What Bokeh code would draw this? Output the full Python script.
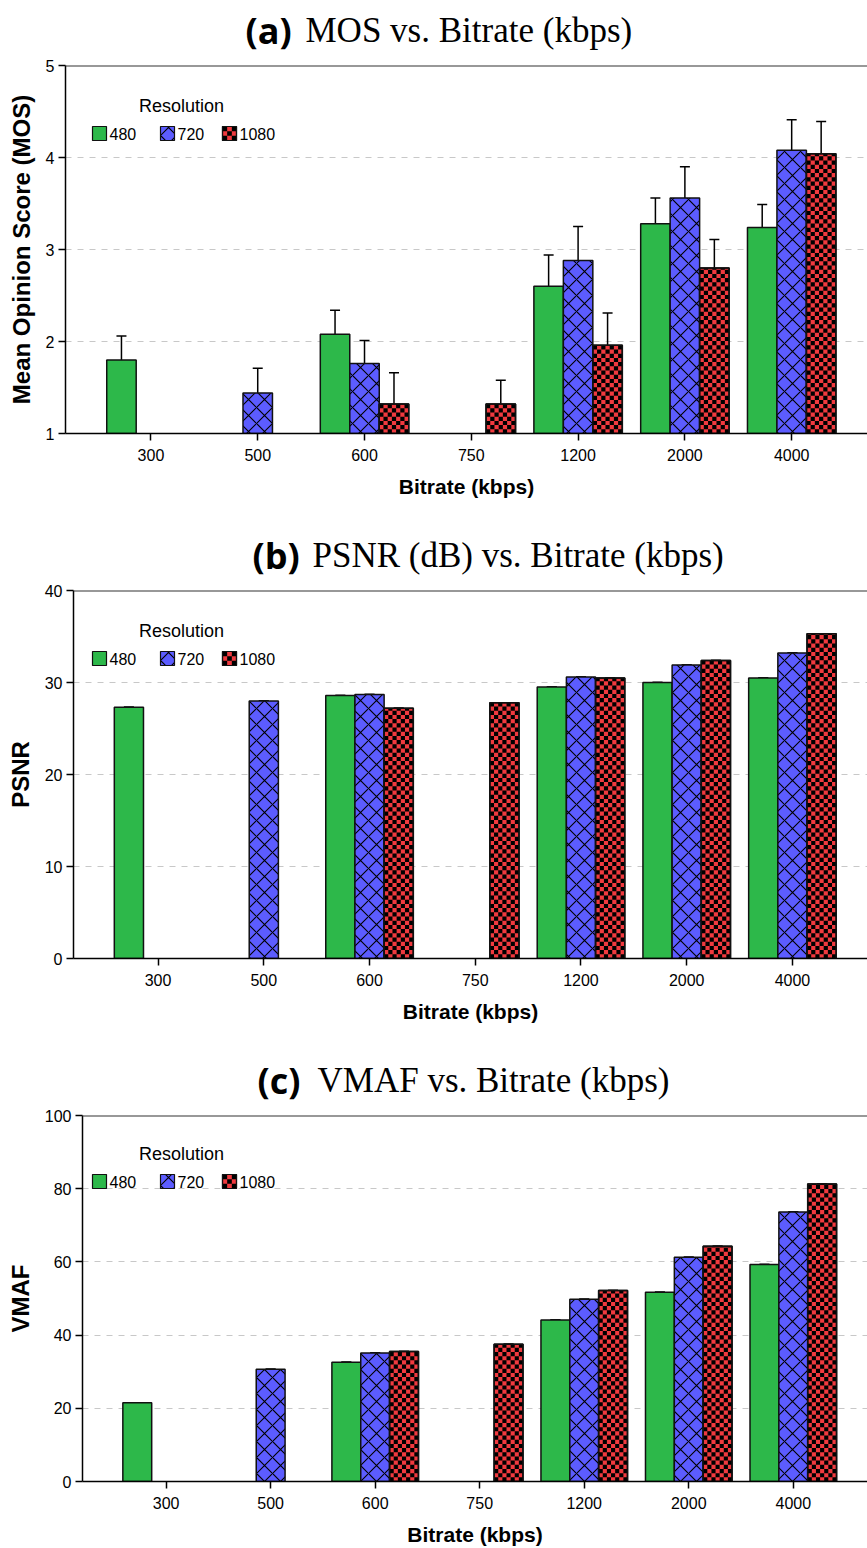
import math

from bokeh.plotting import figure
from bokeh.models import (ColumnDataSource, Whisker, Label, BoxAnnotation,
                          Span, FixedTicker, TeeHead)
from bokeh.core.properties import value
from bokeh.embed import file_html
from bokeh.resources import INLINE

# ---- data -------------------------------------------------------------
bitrates = ["300", "500", "600", "750", "1200", "2000", "4000"]
resolutions = ["480", "720", "1080"]

mos_480 = [1.80, None, 2.08, None, 2.60, 3.28, 3.24]
mos_720 = [None, 1.44, 1.76, None, 2.88, 3.56, 4.08]
mos_1080 = [None, None, 1.32, 1.32, 1.96, 2.80, 4.04]
mos_480_err = [0.26, None, 0.26, None, 0.34, 0.28, 0.25]
mos_720_err = [None, 0.27, 0.25, None, 0.37, 0.34, 0.33]
mos_1080_err = [None, None, 0.34, 0.26, 0.35, 0.31, 0.35]

psnr_480 = [27.3, None, 28.6, None, 29.5, 30.0, 30.5]
psnr_720 = [None, 28.0, 28.7, None, 30.6, 31.9, 33.2]
psnr_1080 = [None, None, 27.2, 27.8, 30.5, 32.4, 35.3]

vmaf_480 = [21.5, None, 32.6, None, 44.1, 51.7, 59.3]
vmaf_720 = [None, 30.7, 35.1, None, 49.8, 61.3, 73.6]
vmaf_1080 = [None, None, 35.5, 37.5, 52.2, 64.3, 81.3]

# ---- styling ------------------------------------------------------------
SANS = "Liberation Sans"
COLORS = ["#2db84a", "#5c5cff", "#f03a3f"]
OUTLINE = "#111111"
BAR_W = 0.276
OFFSETS = [-BAR_W, 0.0, BAR_W]
X_RANGE = (-0.8, 6.71)
FRAME_H = 368
WIDTH = 867
CROSS = dict(hatch_pattern="diagonal_cross", hatch_color="black", hatch_scale=16, hatch_weight=1.1)
CELL_PX = 4.2          # size of one checker cell in pixels
CHECK_COLS = 7


def title_fig(tag, caption, tag_left):
    t = figure(width=WIDTH, height=55, x_range=(0, WIDTH), y_range=(55, 0), title=None,
               x_axis_type=None, y_axis_type=None, output_backend="svg",
               toolbar_location=None, min_border=0)
    t.outline_line_color = None
    t.grid.visible = False
    t.text(x=[tag_left], y=[30], text=[tag], text_align="left",
           text_baseline="middle", text_font=value("Open Sans"),
           text_font_style="bold", text_font_size="36px", text_color="black")
    t.text(x=[tag_left + 60], y=[30], text=[caption], text_align="left",
           text_baseline="middle", text_font=value("Liberation Serif"),
           text_font_size="35px", text_color="black")
    return t


def checker_cells(xs, tops, y0, ky):
    """Black cells of a checkerboard filling each bar (pixel-sized cells)."""
    cw = BAR_W / CHECK_COLS
    ch = CELL_PX / ky
    L, R, B, T = [], [], [], []
    for xc, v in zip(xs, tops):
        left = xc - BAR_W / 2
        nrows = math.ceil((v - y0) / ch)
        for r in range(nrows):
            b = y0 + r * ch
            t = min(b + ch, v)
            for c in range(CHECK_COLS):
                if (r + c) % 2 == 0:
                    L.append(left + c * cw)
                    R.append(left + (c + 1) * cw)
                    B.append(b)
                    T.append(t)
    return dict(left=L, right=R, bottom=B, top=T)


def panel(ylabel, yticks, series, errors, height, frame_left):
    y0, y1 = yticks[0], yticks[-1]
    p = figure(width=WIDTH, height=height, x_range=X_RANGE, y_range=(y0, y1),
               output_backend="svg", toolbar_location=None,
               min_border_left=frame_left, min_border_right=0, min_border_top=10,
               min_border_bottom=height - 10 - FRAME_H)
    p.outline_line_color = None
    ky = FRAME_H / (y1 - y0)

    for k, vals in enumerate(series):
        xs, tops, lo, hi = [], [], [], []
        errs = errors[k] if errors is not None else [0.0] * len(vals)
        for i, v in enumerate(vals):
            if v is None:
                continue
            xs.append(i + OFFSETS[k])
            tops.append(v)
            e = errs[i] or 0.0
            lo.append(v - e)
            hi.append(v + e)
        src = ColumnDataSource(dict(x=xs, top=tops, lower=lo, upper=hi))
        style = CROSS if k == 1 else {}
        p.vbar(x="x", top="top", bottom=y0, width=BAR_W, source=src,
               fill_color=COLORS[k], line_color=OUTLINE, line_width=1.5, **style)
        if k == 2:
            p.quad(source=ColumnDataSource(checker_cells(xs, tops, y0, ky)),
                   left="left", right="right", bottom="bottom", top="top",
                   fill_color="black", line_color=None)
            p.vbar(x="x", top="top", bottom=y0, width=BAR_W, source=src,
                   fill_color=None, line_color=OUTLINE, line_width=1.5)
        p.add_layout(Whisker(base="x", upper="upper", lower="lower", source=src,
                             line_color="black", line_width=1.5,
                             upper_head=TeeHead(size=10, line_width=1.5, line_color="black"),
                             lower_head=TeeHead(size=10, line_width=1.5, line_color="black")))

    p.add_layout(Span(location=y1, dimension="width", line_color="#333333", line_width=2))

    p.xaxis.ticker = FixedTicker(ticks=list(range(len(bitrates))))
    p.xaxis.major_label_overrides = {i: b for i, b in enumerate(bitrates)}
    p.yaxis.ticker = FixedTicker(ticks=yticks)
    p.ygrid.ticker = FixedTicker(ticks=yticks)
    p.xgrid.visible = False
    p.ygrid.grid_line_color = "#c8c8c8"
    p.ygrid.grid_line_dash = "6 6"
    p.ygrid.grid_line_width = 1.2

    for ax in (p.xaxis[0], p.yaxis[0]):
        ax.axis_line_color = "black"
        ax.axis_line_width = 1.5
        ax.major_tick_line_color = "black"
        ax.major_tick_line_width = 1.5
        ax.major_tick_out = 7
        ax.major_tick_in = 0
        ax.minor_tick_line_color = None
        ax.major_label_text_font = SANS
        ax.major_label_text_font_size = "16px"
        ax.major_label_text_color = "black"
        ax.axis_label_text_font = SANS
        ax.axis_label_text_font_style = "bold"
        ax.axis_label_text_color = "black"
        ax.major_label_standoff = 4
    p.xaxis.major_label_standoff = 8
    p.xaxis.axis_label = "Bitrate (kbps)"
    p.xaxis.axis_label_text_font_size = "21px"
    p.xaxis.axis_label_standoff = 11
    p.yaxis.axis_label = ylabel
    p.yaxis.axis_label_text_font_size = "24px"
    p.yaxis.axis_label_standoff = 8

    add_legend(p, frame_left)
    return p


def box(p, frame_left, x0, x1, t0, t1, **kw):
    """Legend swatch; x in page pixels, t measured down from the frame top."""
    p.add_layout(BoxAnnotation(left=x0 - frame_left, right=x1 - frame_left,
                               top=FRAME_H - t0, bottom=FRAME_H - t1,
                               left_units="screen", right_units="screen",
                               top_units="screen", bottom_units="screen",
                               fill_alpha=1.0, line_alpha=1.0, level="overlay", **kw))


def add_legend(p, frame_left):
    swatch_left = [92, 160, 222]
    s, top = 14, 61
    for k, (res, x0) in enumerate(zip(resolutions, swatch_left)):
        style = CROSS if k == 1 else {}
        box(p, frame_left, x0, x0 + s, top, top + s, fill_color=COLORS[k],
            line_color=OUTLINE, line_width=1.2, **style)
        if k == 2:
            c = s / 3
            for r in range(3):
                for q in range(3):
                    if (r + q) % 2 == 0:
                        box(p, frame_left, x0 + q * c, x0 + (q + 1) * c,
                            top + r * c, top + (r + 1) * c,
                            fill_color="black", line_color=None)
            box(p, frame_left, x0, x0 + s, top, top + s, fill_color=None,
                line_color=OUTLINE, line_width=1.2)
        p.add_layout(Label(x=x0 + s + 3 - frame_left, y=FRAME_H - top - s / 2,
                           x_units="screen", y_units="screen", text=res,
                           text_align="left", text_baseline="middle",
                           text_font=SANS, text_font_size="16px", text_color="black"))
    p.add_layout(Label(x=181 - frame_left, y=FRAME_H - 40, x_units="screen", y_units="screen",
                       text="Resolution", text_align="center", text_baseline="middle",
                       text_font=SANS, text_font_size="18px", text_color="black"))


ta = title_fig("(a)", "MOS vs. Bitrate (kbps)", 245)
pa = panel("Mean Opinion Score (MOS)", [1, 2, 3, 4, 5],
           [mos_480, mos_720, mos_1080], [mos_480_err, mos_720_err, mos_1080_err], 470, 65)

tb = title_fig("(b)", "PSNR (dB) vs. Bitrate (kbps)", 252)
pb = panel("PSNR", [0, 10, 20, 30, 40],
           [psnr_480, psnr_720, psnr_1080], None, 470, 73)

tc = title_fig("(c)", "VMAF vs. Bitrate (kbps)", 257)
pc = panel("VMAF", [0, 20, 40, 60, 80, 100],
           [vmaf_480, vmaf_720, vmaf_1080], None, 443, 82)

open("out.html", "w").write(file_html([ta, pa, tb, pb, tc, pc], INLINE))
